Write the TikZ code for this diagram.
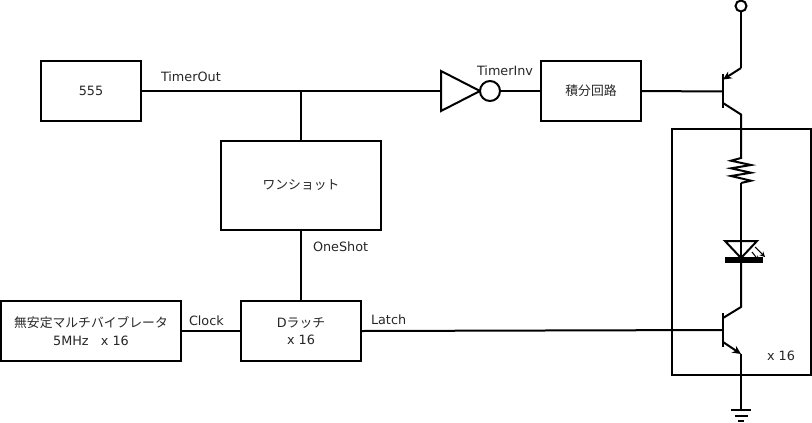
\documentclass[tikz,border=0pt]{standalone}
\usepackage{fontspec}
\setmainfont{DejaVu Sans}
\newfontfamily\jpf{Noto Sans CJK JP}
\usetikzlibrary{arrows.meta}
\tikzset{
  x=0.75pt,y=-0.75pt,
  every node/.style={font=\fontsize{9.6pt}{13pt}\selectfont,text=black!85,inner sep=0pt,outer sep=0pt,align=center},
  wire/.style={draw=black,line width=1.5pt,line join=miter},
  blockbox/.style={draw=black,line width=1.5pt,fill=white,rectangle,anchor=north west},
  lab/.style={anchor=base west},
  tip/.style={-{Stealth[length=6.5pt,width=6pt]}},
  ray/.style={draw=black,line width=0.8pt,-{Stealth[length=4pt,width=4pt]}}
}
\begin{document}
\begin{tikzpicture}
\useasboundingbox (0,0) rectangle (812,422);
% outer frame
\node[blockbox,minimum width=139*0.75pt,minimum height=246*0.75pt] (frame) at (672,129) {};
\node (frametxt) at (781,356) {x 16};
% blocks
\node[blockbox,minimum width=100*0.75pt,minimum height=60*0.75pt] (t555) at (41,61) {};
\node at (t555.center) {555};
\node[blockbox,minimum width=160*0.75pt,minimum height=89*0.75pt] (oneshot) at (221,141) {};
\node at (oneshot.center) {\jpf ワンショット};
\node[blockbox,minimum width=100*0.75pt,minimum height=60*0.75pt] (integ) at (541,61) {};
\node at (integ.center) {\jpf 積分回路};
\node[blockbox,minimum width=180*0.75pt,minimum height=60*0.75pt] (osc) at (1,301) {};
\node at (osc.center) {\jpf 無安定マルチバイブレータ\\5MHz\ \ \ x 16};
\node[blockbox,minimum width=120*0.75pt,minimum height=60*0.75pt] (latch) at (241,301) {};
\node at (latch.center) {D{\jpf ラッチ}\\x 16};
% inverter
\coordinate (invin) at (441,91);
\coordinate (invtop) at (441,71);
\coordinate (invbot) at (441,111);
\coordinate (invtip) at (480,91);
\draw[wire,line join=miter] (invtop) -- (invtip) -- (invbot) -- cycle;
\node[circle,draw=black,line width=1.5pt,fill=white,minimum size=20*0.75pt] (bubble) at (490,91) {};
% junction
\coordinate (junc) at (301,91);
\draw[wire] (t555.east) -- (invin);
\draw[wire] (junc) -- (oneshot.north);
\draw[wire] (oneshot.south) -- (latch.north);
\draw[wire] (osc.east) -- (latch.west);
\draw[wire] (bubble.east) -- (integ.west);
% upper transistor
\coordinate (q1base) at (723,91.5);
\coordinate (q1bt) at (723,74);
\coordinate (q1bb) at (723,108);
\coordinate (q1ek) at (741,68);
\coordinate (q1ej) at (723,79.5);
\coordinate (q1cj) at (723,103);
\coordinate (q1ck) at (741,114.5);
\node[circle,draw=black,line width=1.5pt,minimum size=11*0.75pt] (vcc) at (741,6) {};
\draw[wire] (integ.east) -- (q1base);
\draw[wire] (q1bt) -- (q1bb);
\draw[wire] (vcc.south) -- (q1ek);
\draw[wire,tip] (q1ek) -- (q1ej);
\draw[wire] (q1cj) -- (q1ck) -- (741,129);
% resistor
\coordinate (rtop) at (741,158);
\coordinate (rbot) at (741,183);
\draw[wire] (741,129) -- (rtop) -- (731,160.7) -- (751,165) -- (731,168.3) -- (751,172.7) -- (731,176) -- (751,180.7) -- (rbot);
% LED
\coordinate (ledtop) at (741,258);
\draw[wire] (rbot) -- (ledtop);
\draw[wire,line join=miter] (725,241) -- (757,241) -- (ledtop) -- cycle;
\fill[black] (725,257) rectangle (763,263);
\draw[ray] (755,247) -- (765,257);
\draw[ray] (752,252) -- (759,261);
% lower transistor
\coordinate (q2base) at (723,330);
\coordinate (q2bt) at (723,313);
\coordinate (q2bb) at (723,347);
\coordinate (q2ck) at (741,307);
\coordinate (q2cj) at (723,318);
\coordinate (q2ej) at (723,342);
\coordinate (q2ek) at (741,354);
\draw[wire] (ledtop) -- (q2ck) -- (q2cj);
\draw[wire] (q2bt) -- (q2bb);
\draw[wire] (latch.east) -- (q2base);
\draw[wire,tip] (q2ej) -- (q2ek);
% ground
\coordinate (gnd) at (741,410);
\draw[wire] (q2ek) -- (gnd);
\draw[wire] (731,410) -- (751,410);
\draw[wire] (734.5,415.5) -- (747.5,415.5);
\draw[wire] (738,420.5) -- (744,420.5);
% labels
\node[lab] at (161,81) {TimerOut};
\node[lab] at (477,75) {TimerInv};
\node[lab] at (313,251) {OneShot};
\node[lab] at (189,325) {Clock};
\node[lab] at (371,324) {Latch};
\end{tikzpicture}
\end{document}
